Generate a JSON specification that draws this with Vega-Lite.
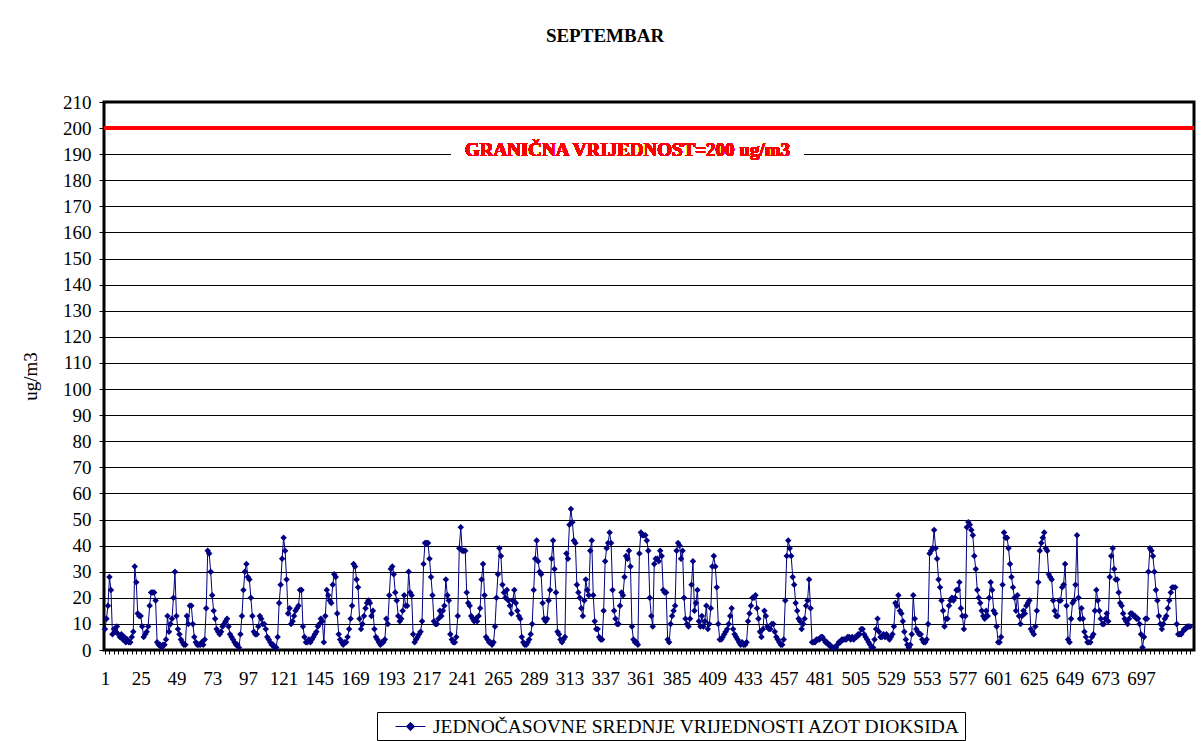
{
"$schema":"https://vega.github.io/schema/vega-lite/v6.json",
"width":1090,"height":548,
"autosize":{"type":"none"},
"padding":{"left":104,"top":102,"right":10,"bottom":91},
"background":"white",
"title":{"text":"SEPTEMBAR","font":"Liberation Serif","fontSize":19,"fontWeight":"bold","color":"black","anchor":"middle","frame":"group","offset":47,"dx":-44},
"config":{"view":{"stroke":"black","strokeWidth":3},
 "axis":{"labelFont":"Liberation Serif","labelFontSize":19,"labelColor":"black","labelOverlap":false,"labelFlush":false,"labelBound":false,"domain":false,"tickColor":"black","titleFont":"Liberation Serif","titleFontSize":19,"titleFontWeight":"normal","titleColor":"black"},
 "axisX":{"grid":false,"tickSize":4,"labelPadding":15},
 "axisY":{"grid":true,"gridColor":"black","gridOpacity":1,"gridWidth":1,"tickSize":5,"labelPadding":8,"titlePadding":22}},
"data":{"values":[
{"h":1,"v":8},{"h":2,"v":12},{"h":3,"v":17},{"h":4,"v":28},{"h":5,"v":23},{"h":6,"v":6},{"h":7,"v":8},{"h":8,"v":7},{"h":9,"v":9},{"h":10,"v":6},{"h":11,"v":5},{"h":12,"v":6},{"h":13,"v":4},{"h":14,"v":5},{"h":15,"v":3},{"h":16,"v":4},{"h":17,"v":3},{"h":18,"v":3},{"h":19,"v":5},{"h":20,"v":7},{"h":21,"v":32},{"h":22,"v":26},{"h":23,"v":14},{"h":24,"v":13},{"h":25,"v":13},{"h":26,"v":9},{"h":27,"v":5},{"h":28,"v":6},{"h":29,"v":7},{"h":30,"v":9},{"h":31,"v":17},{"h":32,"v":22},{"h":33,"v":22},{"h":34,"v":22},{"h":35,"v":19},{"h":36,"v":3},{"h":37,"v":2},{"h":38,"v":2},{"h":39,"v":1},{"h":40,"v":2},{"h":41,"v":2},{"h":42,"v":4},{"h":43,"v":13},{"h":44,"v":7},{"h":45,"v":10},{"h":46,"v":12},{"h":47,"v":20},{"h":48,"v":30},{"h":49,"v":13},{"h":50,"v":8},{"h":51,"v":6},{"h":52,"v":4},{"h":53,"v":3},{"h":54,"v":2},{"h":55,"v":2},{"h":56,"v":13},{"h":57,"v":10},{"h":58,"v":17},
{"h":59,"v":17},{"h":60,"v":10},{"h":61,"v":5},{"h":62,"v":3},{"h":63,"v":2},{"h":64,"v":2},{"h":65,"v":2},{"h":66,"v":3},{"h":67,"v":2},{"h":68,"v":4},{"h":69,"v":16},{"h":70,"v":38},{"h":71,"v":37},{"h":72,"v":30},{"h":73,"v":21},{"h":74,"v":15},{"h":75,"v":12},{"h":76,"v":8},{"h":77,"v":7},{"h":78,"v":6},{"h":79,"v":7},{"h":80,"v":9},{"h":81,"v":10},{"h":82,"v":11},{"h":83,"v":12},{"h":84,"v":9},{"h":85,"v":6},{"h":86,"v":5},{"h":87,"v":4},{"h":88,"v":3},{"h":89,"v":2},{"h":90,"v":2},{"h":91,"v":1},{"h":92,"v":6},{"h":93,"v":13},{"h":94,"v":23},{"h":95,"v":30},{"h":96,"v":33},{"h":97,"v":28},{"h":98,"v":27},{"h":99,"v":20},{"h":100,"v":13},{"h":101,"v":7},{"h":102,"v":6},{"h":103,"v":6},{"h":104,"v":9},{"h":105,"v":13},{"h":106,"v":12},{"h":107,"v":10},{"h":108,"v":10},{"h":109,"v":8},{"h":110,"v":5},{"h":111,"v":4},{"h":112,"v":3},{"h":113,"v":2},{"h":114,"v":2},{"h":115,"v":1},{"h":116,"v":1},{"h":117,"v":5},{"h":118,"v":18},{"h":119,"v":25},{"h":120,"v":35},
{"h":121,"v":43},{"h":122,"v":38},{"h":123,"v":27},{"h":124,"v":14},{"h":125,"v":16},{"h":126,"v":10},{"h":127,"v":11},{"h":128,"v":13},{"h":129,"v":15},{"h":130,"v":16},{"h":131,"v":17},{"h":132,"v":23},{"h":133,"v":23},{"h":134,"v":9},{"h":135,"v":5},{"h":136,"v":3},{"h":137,"v":3},{"h":138,"v":4},{"h":139,"v":3},{"h":140,"v":4},{"h":141,"v":5},{"h":142,"v":6},{"h":143,"v":7},{"h":144,"v":9},{"h":145,"v":10},{"h":146,"v":12},{"h":147,"v":11},{"h":148,"v":3},{"h":149,"v":13},{"h":150,"v":23},{"h":151,"v":21},{"h":152,"v":19},{"h":153,"v":18},{"h":154,"v":25},{"h":155,"v":29},{"h":156,"v":28},{"h":157,"v":14},{"h":158,"v":6},{"h":159,"v":4},{"h":160,"v":3},{"h":161,"v":2},{"h":162,"v":3},{"h":163,"v":3},{"h":164,"v":5},{"h":165,"v":8},{"h":166,"v":12},{"h":167,"v":17},{"h":168,"v":33},{"h":169,"v":32},{"h":170,"v":27},{"h":171,"v":24},{"h":172,"v":12},{"h":173,"v":8},{"h":174,"v":10},{"h":175,"v":13},{"h":176,"v":16},{"h":177,"v":18},{"h":178,"v":19},{"h":179,"v":18},{"h":180,"v":13},{"h":181,"v":15},
{"h":182,"v":8},{"h":183,"v":5},{"h":184,"v":4},{"h":185,"v":3},{"h":186,"v":2},{"h":187,"v":3},{"h":188,"v":3},{"h":189,"v":4},{"h":190,"v":12},{"h":191,"v":10},{"h":192,"v":21},{"h":193,"v":31},{"h":194,"v":32},{"h":195,"v":29},{"h":196,"v":22},{"h":197,"v":19},{"h":198,"v":13},{"h":199,"v":11},{"h":200,"v":12},{"h":201,"v":15},{"h":202,"v":21},{"h":203,"v":17},{"h":204,"v":17},{"h":205,"v":30},{"h":206,"v":22},{"h":207,"v":21},{"h":208,"v":6},{"h":209,"v":3},{"h":210,"v":4},{"h":211,"v":5},{"h":212,"v":6},{"h":213,"v":7},{"h":214,"v":11},{"h":215,"v":33},{"h":216,"v":41},{"h":217,"v":41},{"h":218,"v":41},{"h":219,"v":35},{"h":220,"v":28},{"h":221,"v":21},{"h":222,"v":11},{"h":223,"v":10},{"h":224,"v":10},{"h":225,"v":12},{"h":226,"v":15},{"h":227,"v":13},{"h":228,"v":15},{"h":229,"v":17},{"h":230,"v":27},{"h":231,"v":21},{"h":232,"v":19},{"h":233,"v":6},{"h":234,"v":4},{"h":235,"v":3},{"h":236,"v":3},{"h":237,"v":5},{"h":238,"v":13},{"h":239,"v":39},{"h":240,"v":47},{"h":241,"v":38},{"h":242,"v":38},{"h":243,"v":38},
{"h":244,"v":22},{"h":245,"v":18},{"h":246,"v":17},{"h":247,"v":13},{"h":248,"v":12},{"h":249,"v":11},{"h":250,"v":12},{"h":251,"v":11},{"h":252,"v":13},{"h":253,"v":16},{"h":254,"v":27},{"h":255,"v":33},{"h":256,"v":21},{"h":257,"v":5},{"h":258,"v":4},{"h":259,"v":3},{"h":260,"v":3},{"h":261,"v":2},{"h":262,"v":3},{"h":263,"v":9},{"h":264,"v":20},{"h":265,"v":29},{"h":266,"v":39},{"h":267,"v":36},{"h":268,"v":25},{"h":269,"v":22},{"h":270,"v":20},{"h":271,"v":23},{"h":272,"v":19},{"h":273,"v":17},{"h":274,"v":14},{"h":275,"v":19},{"h":276,"v":23},{"h":277,"v":18},{"h":278,"v":15},{"h":279,"v":13},{"h":280,"v":12},{"h":281,"v":5},{"h":282,"v":3},{"h":283,"v":2},{"h":284,"v":2},{"h":285,"v":3},{"h":286,"v":4},{"h":287,"v":6},{"h":288,"v":10},{"h":289,"v":23},{"h":290,"v":35},{"h":291,"v":42},{"h":292,"v":34},{"h":293,"v":30},{"h":294,"v":29},{"h":295,"v":18},{"h":296,"v":12},{"h":297,"v":11},{"h":298,"v":12},{"h":299,"v":19},{"h":300,"v":23},{"h":301,"v":35},{"h":302,"v":42},{"h":303,"v":31},{"h":304,"v":22},{"h":305,"v":7},
{"h":306,"v":6},{"h":307,"v":4},{"h":308,"v":3},{"h":309,"v":4},{"h":310,"v":5},{"h":311,"v":37},{"h":312,"v":35},{"h":313,"v":48},{"h":314,"v":54},{"h":315,"v":49},{"h":316,"v":42},{"h":317,"v":41},{"h":318,"v":25},{"h":319,"v":22},{"h":320,"v":20},{"h":321,"v":16},{"h":322,"v":13},{"h":323,"v":19},{"h":324,"v":27},{"h":325,"v":23},{"h":326,"v":21},{"h":327,"v":38},{"h":328,"v":42},{"h":329,"v":21},{"h":330,"v":11},{"h":331,"v":8},{"h":332,"v":8},{"h":333,"v":5},{"h":334,"v":4},{"h":335,"v":4},{"h":336,"v":15},{"h":337,"v":34},{"h":338,"v":39},{"h":339,"v":41},{"h":340,"v":45},{"h":341,"v":41},{"h":342,"v":23},{"h":343,"v":15},{"h":344,"v":12},{"h":345,"v":10},{"h":346,"v":10},{"h":347,"v":17},{"h":348,"v":22},{"h":349,"v":21},{"h":350,"v":28},{"h":351,"v":36},{"h":352,"v":35},{"h":353,"v":38},{"h":354,"v":32},{"h":355,"v":9},{"h":356,"v":4},{"h":357,"v":3},{"h":358,"v":3},{"h":359,"v":2},{"h":360,"v":37},{"h":361,"v":45},{"h":362,"v":44},{"h":363,"v":44},{"h":364,"v":44},{"h":365,"v":42},{"h":366,"v":38},{"h":367,"v":20},
{"h":368,"v":13},{"h":369,"v":9},{"h":370,"v":33},{"h":371,"v":35},{"h":372,"v":35},{"h":373,"v":34},{"h":374,"v":38},{"h":375,"v":36},{"h":376,"v":23},{"h":377,"v":22},{"h":378,"v":22},{"h":379,"v":4},{"h":380,"v":3},{"h":381,"v":10},{"h":382,"v":13},{"h":383,"v":15},{"h":384,"v":17},{"h":385,"v":38},{"h":386,"v":41},{"h":387,"v":40},{"h":388,"v":35},{"h":389,"v":38},{"h":390,"v":20},{"h":391,"v":12},{"h":392,"v":10},{"h":393,"v":9},{"h":394,"v":12},{"h":395,"v":25},{"h":396,"v":34},{"h":397,"v":15},{"h":398,"v":18},{"h":399,"v":23},{"h":400,"v":11},{"h":401,"v":9},{"h":402,"v":13},{"h":403,"v":9},{"h":404,"v":11},{"h":405,"v":17},{"h":406,"v":8},{"h":407,"v":10},{"h":408,"v":16},{"h":409,"v":32},{"h":410,"v":36},{"h":411,"v":32},{"h":412,"v":24},{"h":413,"v":10},{"h":414,"v":4},{"h":415,"v":4},{"h":416,"v":5},{"h":417,"v":6},{"h":418,"v":7},{"h":419,"v":8},{"h":420,"v":10},{"h":421,"v":13},{"h":422,"v":16},{"h":423,"v":8},{"h":424,"v":6},{"h":425,"v":5},{"h":426,"v":4},{"h":427,"v":3},{"h":428,"v":2},
{"h":429,"v":3},{"h":430,"v":2},{"h":431,"v":2},{"h":432,"v":3},{"h":433,"v":11},{"h":434,"v":14},{"h":435,"v":17},{"h":436,"v":20},{"h":437,"v":20},{"h":438,"v":21},{"h":439,"v":16},{"h":440,"v":12},{"h":441,"v":7},{"h":442,"v":5},{"h":443,"v":8},{"h":444,"v":15},{"h":445,"v":13},{"h":446,"v":9},{"h":447,"v":8},{"h":448,"v":8},{"h":449,"v":10},{"h":450,"v":10},{"h":451,"v":7},{"h":452,"v":5},{"h":453,"v":4},{"h":454,"v":3},{"h":455,"v":2},{"h":456,"v":2},{"h":457,"v":4},{"h":458,"v":19},{"h":459,"v":36},{"h":460,"v":42},{"h":461,"v":39},{"h":462,"v":36},{"h":463,"v":28},{"h":464,"v":25},{"h":465,"v":18},{"h":466,"v":15},{"h":467,"v":12},{"h":468,"v":11},{"h":469,"v":8},{"h":470,"v":10},{"h":471,"v":12},{"h":472,"v":17},{"h":473,"v":19},{"h":474,"v":27},{"h":475,"v":16},{"h":476,"v":3},{"h":477,"v":3},{"h":478,"v":3},{"h":479,"v":4},{"h":480,"v":4},{"h":481,"v":4},{"h":482,"v":5},{"h":483,"v":5},{"h":484,"v":4},{"h":485,"v":3},{"h":486,"v":3},{"h":487,"v":2},{"h":488,"v":2},{"h":489,"v":1},{"h":490,"v":1},
{"h":491,"v":1},{"h":492,"v":1},{"h":493,"v":2},{"h":494,"v":3},{"h":495,"v":3},{"h":496,"v":4},{"h":497,"v":4},{"h":498,"v":4},{"h":499,"v":4},{"h":500,"v":5},{"h":501,"v":5},{"h":502,"v":4},{"h":503,"v":5},{"h":504,"v":4},{"h":505,"v":5},{"h":506,"v":5},{"h":507,"v":6},{"h":508,"v":6},{"h":509,"v":8},{"h":510,"v":8},{"h":511,"v":6},{"h":512,"v":5},{"h":513,"v":4},{"h":514,"v":3},{"h":515,"v":2},{"h":516,"v":1},{"h":517,"v":1},{"h":518,"v":4},{"h":519,"v":8},{"h":520,"v":12},{"h":521,"v":7},{"h":522,"v":5},{"h":523,"v":5},{"h":524,"v":6},{"h":525,"v":5},{"h":526,"v":6},{"h":527,"v":5},{"h":528,"v":4},{"h":529,"v":5},{"h":530,"v":6},{"h":531,"v":9},{"h":532,"v":18},{"h":533,"v":17},{"h":534,"v":21},{"h":535,"v":15},{"h":536,"v":14},{"h":537,"v":11},{"h":538,"v":7},{"h":539,"v":4},{"h":540,"v":2},{"h":541,"v":1},{"h":542,"v":2},{"h":543,"v":6},{"h":544,"v":21},{"h":545,"v":12},{"h":546,"v":8},{"h":547,"v":7},{"h":548,"v":6},{"h":549,"v":6},{"h":550,"v":4},{"h":551,"v":3},
{"h":552,"v":3},{"h":553,"v":4},{"h":554,"v":10},{"h":555,"v":37},{"h":556,"v":38},{"h":557,"v":39},{"h":558,"v":46},{"h":559,"v":39},{"h":560,"v":35},{"h":561,"v":27},{"h":562,"v":24},{"h":563,"v":19},{"h":564,"v":15},{"h":565,"v":9},{"h":566,"v":12},{"h":567,"v":12},{"h":568,"v":17},{"h":569,"v":19},{"h":570,"v":20},{"h":571,"v":19},{"h":572,"v":20},{"h":573,"v":23},{"h":574,"v":23},{"h":575,"v":26},{"h":576,"v":16},{"h":577,"v":13},{"h":578,"v":8},{"h":579,"v":13},{"h":580,"v":47},{"h":581,"v":49},{"h":582,"v":48},{"h":583,"v":46},{"h":584,"v":44},{"h":585,"v":36},{"h":586,"v":31},{"h":587,"v":23},{"h":588,"v":20},{"h":589,"v":18},{"h":590,"v":15},{"h":591,"v":13},{"h":592,"v":12},{"h":593,"v":15},{"h":594,"v":13},{"h":595,"v":20},{"h":596,"v":26},{"h":597,"v":23},{"h":598,"v":15},{"h":599,"v":14},{"h":600,"v":9},{"h":601,"v":3},{"h":602,"v":3},{"h":603,"v":5},{"h":604,"v":25},{"h":605,"v":45},{"h":606,"v":43},{"h":607,"v":43},{"h":608,"v":39},{"h":609,"v":33},{"h":610,"v":28},{"h":611,"v":24},{"h":612,"v":20},{"h":613,"v":15},{"h":614,"v":21},
{"h":615,"v":13},{"h":616,"v":10},{"h":617,"v":13},{"h":618,"v":15},{"h":619,"v":14},{"h":620,"v":17},{"h":621,"v":18},{"h":622,"v":19},{"h":623,"v":8},{"h":624,"v":7},{"h":625,"v":6},{"h":626,"v":9},{"h":627,"v":15},{"h":628,"v":26},{"h":629,"v":38},{"h":630,"v":41},{"h":631,"v":43},{"h":632,"v":45},{"h":633,"v":39},{"h":634,"v":38},{"h":635,"v":29},{"h":636,"v":28},{"h":637,"v":27},{"h":638,"v":19},{"h":639,"v":15},{"h":640,"v":13},{"h":641,"v":13},{"h":642,"v":19},{"h":643,"v":19},{"h":644,"v":24},{"h":645,"v":25},{"h":646,"v":33},{"h":647,"v":17},{"h":648,"v":4},{"h":649,"v":3},{"h":650,"v":12},{"h":651,"v":18},{"h":652,"v":19},{"h":653,"v":25},{"h":654,"v":44},{"h":655,"v":20},{"h":656,"v":12},{"h":657,"v":16},{"h":658,"v":12},{"h":659,"v":7},{"h":660,"v":5},{"h":661,"v":3},{"h":662,"v":3},{"h":663,"v":3},{"h":664,"v":5},{"h":665,"v":6},{"h":666,"v":15},{"h":667,"v":23},{"h":668,"v":19},{"h":669,"v":15},{"h":670,"v":12},{"h":671,"v":10},{"h":672,"v":10},{"h":673,"v":12},{"h":674,"v":14},{"h":675,"v":11},
{"h":676,"v":28},{"h":677,"v":36},{"h":678,"v":39},{"h":679,"v":31},{"h":680,"v":27},{"h":681,"v":27},{"h":682,"v":22},{"h":683,"v":18},{"h":684,"v":17},{"h":685,"v":14},{"h":686,"v":12},{"h":687,"v":11},{"h":688,"v":10},{"h":689,"v":12},{"h":690,"v":14},{"h":691,"v":14},{"h":692,"v":13},{"h":693,"v":13},{"h":694,"v":12},{"h":695,"v":12},{"h":696,"v":10},{"h":697,"v":6},{"h":698,"v":1},{"h":699,"v":5},{"h":700,"v":12},{"h":701,"v":12},{"h":702,"v":30},{"h":703,"v":39},{"h":704,"v":38},{"h":705,"v":36},{"h":706,"v":30},{"h":707,"v":23},{"h":708,"v":19},{"h":709,"v":13},{"h":710,"v":10},{"h":711,"v":8},{"h":712,"v":10},{"h":713,"v":12},{"h":714,"v":13},{"h":715,"v":16},{"h":716,"v":19},{"h":717,"v":22},{"h":718,"v":24},{"h":719,"v":24},{"h":720,"v":24},{"h":721,"v":10},{"h":722,"v":6},{"h":723,"v":6},{"h":724,"v":6},{"h":725,"v":7},{"h":726,"v":8},{"h":727,"v":8},{"h":728,"v":9},{"h":729,"v":9},{"h":730,"v":9}
]},
"layer":[
{"mark":{"type":"line","strokeWidth":1,"point":{"filled":true,"shape":"diamond","size":42}},
 "encoding":{
  "x":{"field":"h","type":"quantitative","scale":{"domain":[0.33,732.6],"nice":false,"zero":false},
   "axis":{"title":null,"format":"d","tickCount":732,"labelExpr":"(datum.value-1)%24===0 && datum.value<=697 ? datum.label : ''","tickOpacity":{"condition":{"test":"(datum.value-1)%3===0","value":1},"value":0},"labelOverlap":false,"labelFont":"Liberation Serif"}},
  "y":{"field":"v","type":"quantitative","scale":{"domain":[0,210],"nice":false},
   "axis":{"title":"ug/m3","tickCount":21,"labelOverlap":false,"labelFont":"Liberation Serif"}},
  "color":{"datum":"JEDNOČASOVNE SREDNJE VRIJEDNOSTI AZOT DIOKSIDA","type":"nominal","scale":{"range":["#000080"]},
   "legend":{"title":null,"orient":"none","legendX":273,"legendY":610,"direction":"horizontal","strokeColor":"black","fillColor":"white","padding":4,
    "labelFont":"Liberation Serif","labelFontSize":19.5,"labelColor":"black","labelLimit":0,"labelOffset":31,
    "symbolType":"M0.4,0L3.4,0M1.9,-0.42L2.32,0L1.9,0.42L1.48,0Z","symbolSize":400,"symbolStrokeWidth":1,"symbolFillColor":"#000080","symbolStrokeColor":"#000080","symbolOpacity":1}}
 }},
{"mark":{"type":"rect","fill":"white"},
 "encoding":{"x":{"datum":234,"type":"quantitative"},"x2":{"datum":470},"y":{"datum":187.5,"type":"quantitative"},"y2":{"datum":195.5}}},
{"mark":{"type":"text","color":"#FF0000","font":"Liberation Serif","fontSize":19,"fontWeight":"bold","baseline":"middle","align":"center"},
 "encoding":{"x":{"datum":352,"type":"quantitative"},"y":{"datum":191.5,"type":"quantitative"},"text":{"value":"GRANIČNA VRIJEDNOST=200 ug/m3"}}},
{"mark":{"type":"rule","color":"#FF0000","strokeWidth":3},
 "encoding":{"y":{"datum":200,"type":"quantitative"}}}
]
}
